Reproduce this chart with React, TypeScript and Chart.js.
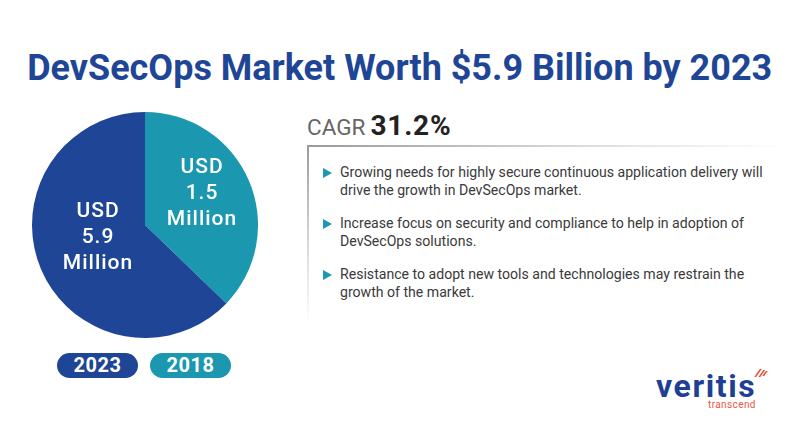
import React, { useEffect, useRef } from "react";
import { Chart, registerables } from "chart.js";

Chart.register(...registerables);

// ---- data ----
const years = ["2018", "2023"];
const marketValues = ["1.5", "5.9"]; // USD Million, as labelled
const sliceShares = [37.2, 62.8]; // share of the pie as drawn in the picture (%)
const sliceColors = ["#1b97af", "#1f4696"];
const labelLines = (v: string) => ["USD", v, "Million"];
const titleText = "DevSecOps Market Worth $5.9 Billion by 2023";
const cagrLabel = "CAGR";
const cagrValue = "31.2%";
const bulletLines = [
  ["Growing needs for highly secure continuous application delivery will", "drive the growth in DevSecOps market."],
  ["Increase focus on security and compliance to help in adoption of", "DevSecOps solutions."],
  ["Resistance to adopt new tools and technologies may restrain the", "growth of the market."],
];
const legendOrder = [1, 0]; // 2023 first, then 2018

const FONT = "Roboto, 'Noto Sans', Arial, sans-serif";

const sliceLabelPlugin = {
  id: "sliceLabels",
  afterDatasetsDraw(chart: any) {
    const ctx = chart.ctx;
    const meta = chart.getDatasetMeta(0);
    meta.data.forEach((arc: any, i: number) => {
      const pos = arc.tooltipPosition(false);
      const r = arc.outerRadius;
      const x = pos.x + 0.04 * r;
      const y = pos.y - 0.085 * r;
      const lines = labelLines(marketValues[i]);
      ctx.save();
      ctx.fillStyle = "#ffffff";
      ctx.font = `500 21px ${FONT}`;
      try {
        (ctx as any).letterSpacing = "1px";
      } catch (e) {}
      ctx.textAlign = "center";
      ctx.textBaseline = "middle";
      lines.forEach((t, k) => {
        ctx.fillText(t, x + 0.5, y + (k - 1) * 26);
      });
      ctx.restore();
    });
  },
};

export default function App() {
  const canvasRef = useRef<HTMLCanvasElement>(null);
  const titleRef = useRef<HTMLSpanElement>(null);

  useEffect(() => {
    document.body.style.margin = "0";
    const t = titleRef.current;
    if (t) {
      t.style.transform = "none";
      const w = t.getBoundingClientRect().width;
      if (w > 0) t.style.transform = `scaleX(${745 / w})`;
    }
    const chart = new Chart(canvasRef.current!, {
      type: "pie",
      data: {
        labels: years,
        datasets: [
          {
            data: sliceShares,
            backgroundColor: sliceColors,
            borderWidth: 0,
          },
        ],
      },
      options: {
        animation: false,
        responsive: false,
        maintainAspectRatio: false,
        layout: { padding: 0 },
        plugins: {
          legend: { display: false },
          tooltip: { enabled: false },
          title: { display: false },
        },
      },
      plugins: [sliceLabelPlugin],
    });
    return () => chart.destroy();
  }, []);

  return (
    <div
      style={{
        position: "relative",
        width: 800,
        height: 432,
        background: "#ffffff",
        overflow: "hidden",
        fontFamily: FONT,
      }}
    >
      <div
        style={{
          position: "absolute",
          left: 0,
          top: 48,
          width: 800,
          height: 40,
          lineHeight: "40px",
          textAlign: "center",
          whiteSpace: "nowrap",
        }}
      >
        <span
          ref={titleRef}
          style={{
            display: "inline-block",
            fontSize: 36,
            fontWeight: 700,
            color: "#1f4696",
            transformOrigin: "center",
          }}
        >
          {titleText}
        </span>
      </div>

      <canvas
        ref={canvasRef}
        width={226}
        height={226}
        style={{ position: "absolute", left: 31.5, top: 111.5, width: 226, height: 226 }}
      />

      {legendOrder.map((idx, k) => (
        <div
          key={years[idx]}
          style={{
            position: "absolute",
            left: 57 + k * 93,
            top: 353,
            width: 81,
            height: 25,
            borderRadius: 13,
            background: sliceColors[idx],
            color: "#fff",
            fontSize: 20,
            fontWeight: 700,
            lineHeight: "25px",
            textAlign: "center",
            letterSpacing: 0.5,
          }}
        >
          {years[idx]}
        </div>
      ))}

      <div
        style={{
          position: "absolute",
          left: 307,
          top: 109.5,
          fontSize: 28,
          lineHeight: "32px",
          whiteSpace: "nowrap",
        }}
      >
        <span style={{ fontSize: 22.5, color: "#666666", fontWeight: 400 }}>{cagrLabel}</span>
        <span style={{ fontSize: 28, color: "#222222", fontWeight: 700, marginLeft: 5, letterSpacing: 0.8 }}>
          {cagrValue}
        </span>
      </div>

      <div
        style={{
          position: "absolute",
          left: 307,
          top: 144.5,
          width: 2,
          height: 180,
          background: "linear-gradient(to bottom, #9a9a9a 0%, rgba(200,200,200,0.6) 60%, rgba(255,255,255,0) 100%)",
        }}
      />
      <div
        style={{
          position: "absolute",
          left: 307,
          top: 144.5,
          width: 480,
          height: 2,
          background: "linear-gradient(to right, #9a9a9a 0%, rgba(200,200,200,0.6) 60%, rgba(255,255,255,0) 100%)",
        }}
      />

      <div style={{ position: "absolute", left: 323, top: 164.25 }}>
        {bulletLines.map((lines, i) => (
          <div key={i} style={{ position: "relative", marginBottom: 16, height: 35 }}>
            <div
              style={{
                position: "absolute",
                left: 0,
                top: 4,
                width: 0,
                height: 0,
                borderTop: "5px solid transparent",
                borderBottom: "5px solid transparent",
                borderLeft: "9px solid #1b97af",
              }}
            />
            <div
              style={{
                position: "absolute",
                left: 17,
                top: 0,
                fontSize: 14.1,
                lineHeight: "17.5px",
                color: "#3a3a3a",
                whiteSpace: "nowrap",
              }}
            >
              {lines.map((l, k) => (
                <div key={k}>{l}</div>
              ))}
            </div>
          </div>
        ))}
      </div>

      <div
        style={{
          position: "absolute",
          left: 656,
          top: 373.8,
          fontSize: 32,
          fontWeight: 700,
          lineHeight: "24px",
          color: "#1f3f94",
          letterSpacing: 1.6,
          whiteSpace: "nowrap",
        }}
      >
        veritis
      </div>
      <div
        style={{
          position: "absolute",
          left: 708,
          top: 401.5,
          fontSize: 10,
          lineHeight: "6px",
          color: "#e9573f",
          letterSpacing: 0.4,
          whiteSpace: "nowrap",
        }}
      >
        transcend
      </div>
      {[0, 1, 2].map((k) => (
        <div
          key={k}
          style={{
            position: "absolute",
            left: 757 + k * 3.5,
            top: 369 + k * 1,
            width: 2,
            height: 8 - k * 1.5,
            background: "#e9573f",
            transform: "skewX(-35deg)",
          }}
        />
      ))}
    </div>
  );
}
